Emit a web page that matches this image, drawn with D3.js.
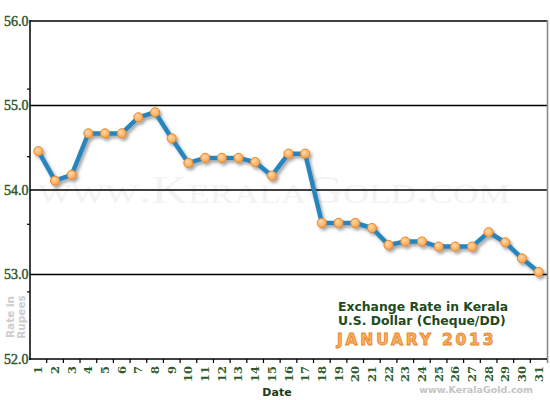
<!DOCTYPE html>
<html lang="en">
<head>
    <meta charset="UTF-8">
    <title>Exchange Rate in Kerala - U.S. Dollar (Cheque/DD) - January 2013</title>
    <script src="https://d3js.org/d3.v7.min.js"></script>
    <style>
        body {
            margin: 0;
            background: #fff;
        }
        svg {
            display: block;
        }
    </style>
</head>
<body>
    <svg id="chart" width="550" height="400"></svg>

    <script>
        // Day labels on the x axis
        const days = ["1", "2", "3", "4", "5", "6", "7", "8", "9", "10",
            "11", "12", "13", "14", "15", "16", "17", "18", "19", "20",
            "21", "22", "23", "24", "25", "26", "27", "28", "29", "30", "31"];

        // Rate in rupees for one U.S. dollar
        const rates = [54.46, 54.11, 54.18, 54.67, 54.67, 54.67, 54.86, 54.92, 54.61, 54.32,
            54.38, 54.38, 54.38, 54.33, 54.17, 54.43, 54.43, 53.61, 53.61, 53.61,
            53.55, 53.35, 53.39, 53.39, 53.33, 53.33, 53.33, 53.50, 53.38, 53.19,
            53.03];

        const gridValues = [53, 54, 55, 56];
        const yLabels = ["52.0", "53.0", "54.0", "55.0", "56.0"];
        const minorTicks = [52.8, 53.6, 54.4, 55.2];

        const data = days.map((d, i) => ({ day: d, rate: rates[i] }));

        // Zone du graphique
        const plotLeft = 30, plotRight = 547, plotTop = 21, plotBottom = 359;

        const svg = d3.select("#chart");

        const x = d3.scaleBand()
            .domain(days)
            .range([plotLeft, plotRight]);

        const y = d3.scaleLinear()
            .domain([52, 56])
            .range([plotBottom, plotTop]);

        // Filtres et dégradés
        const defs = svg.append("defs");
        const shadow = defs.append("filter")
            .attr("id", "shadow")
            .attr("x", "-10%").attr("y", "-10%")
            .attr("width", "130%").attr("height", "130%");
        shadow.append("feDropShadow")
            .attr("dx", 2).attr("dy", 2.5)
            .attr("stdDeviation", 1.4)
            .attr("flood-color", "#000")
            .attr("flood-opacity", 0.35);

        const grad = defs.append("radialGradient")
            .attr("id", "dot")
            .attr("cx", "40%").attr("cy", "35%").attr("r", "65%");
        grad.append("stop").attr("offset", "0%").attr("stop-color", "#ffd8a6");
        grad.append("stop").attr("offset", "100%").attr("stop-color", "#f9a44c");

        // Filigrane
        svg.append("text")
            .attr("x", 38)
            .attr("y", 203)
            .attr("textLength", 472)
            .attr("lengthAdjust", "spacingAndGlyphs")
            .attr("font-family", "Liberation Serif, serif")
            .attr("font-size", 40)
            .style("font-variant", "small-caps")
            .attr("fill", "#f3f3f3")
            .text("www.KeralaGold.com");

        // Lignes de grille
        svg.selectAll(".grid")
            .data(gridValues)
            .join("line")
            .attr("class", "grid")
            .attr("x1", plotLeft)
            .attr("x2", plotRight)
            .attr("y1", d => y(d))
            .attr("y2", d => y(d))
            .attr("stroke", "#000")
            .attr("stroke-width", 1.5);

        // Bord droit
        svg.append("line")
            .attr("x1", plotRight + 0.5).attr("x2", plotRight + 0.5)
            .attr("y1", plotTop - 1).attr("y2", plotBottom + 4)
            .attr("stroke", "#8a8a8a")
            .attr("stroke-width", 1.6);

        // Axe Y
        const yAxis = d3.axisLeft(y)
            .tickValues(minorTicks)
            .tickSize(3)
            .tickFormat("");
        svg.append("g")
            .attr("transform", `translate(${plotLeft},0)`)
            .call(yAxis)
            .call(g => g.select(".domain").remove())
            .call(g => g.selectAll(".tick line").attr("stroke", "#000").attr("stroke-width", 1.2));

        svg.append("line")
            .attr("x1", plotLeft).attr("x2", plotLeft)
            .attr("y1", plotTop - 1).attr("y2", plotBottom + 1)
            .attr("stroke", "#000")
            .attr("stroke-width", 1.5);

        svg.selectAll(".ylabel")
            .data(yLabels)
            .join("text")
            .attr("class", "ylabel")
            .attr("x", plotLeft - 1.5)
            .attr("y", d => y(+d) + 4.8)
            .attr("text-anchor", "end")
            .attr("font-family", "Liberation Serif, serif")
            .attr("font-size", 14)
            .attr("fill", "#2f5a2c")
            .attr("stroke", "#2f5a2c")
            .attr("stroke-width", 0.45)
            .text(d => d);

        // Axe X
        svg.append("line")
            .attr("x1", plotLeft - 1).attr("x2", plotRight)
            .attr("y1", plotBottom).attr("y2", plotBottom)
            .attr("stroke", "#000")
            .attr("stroke-width", 1.5);

        svg.selectAll(".xtick")
            .data(days.slice(1))
            .join("line")
            .attr("class", "xtick")
            .attr("x1", d => x(d))
            .attr("x2", d => x(d))
            .attr("y1", plotBottom)
            .attr("y2", plotBottom + 4)
            .attr("stroke", "#000")
            .attr("stroke-width", 1.2);

        svg.selectAll(".xlabel")
            .data(days)
            .join("text")
            .attr("class", "xlabel")
            .attr("transform", d => `translate(${x(d) + x.bandwidth() / 2 + 4},366) rotate(-90)`)
            .attr("text-anchor", "end")
            .attr("font-family", "DejaVu Serif, serif")
            .attr("font-weight", "bold")
            .attr("font-size", 11.5)
            .attr("fill", "#2f5a2c")
            .text(d => d);

        svg.append("text")
            .attr("x", 277)
            .attr("y", 396)
            .attr("text-anchor", "middle")
            .attr("font-family", "DejaVu Sans, sans-serif")
            .attr("font-weight", "bold")
            .attr("font-size", 11)
            .attr("fill", "#1c3a1c")
            .text("Date");

        // Titre de l'axe Y
        const yTitle = svg.append("text")
            .attr("transform", "translate(13.5,317) rotate(-90)")
            .attr("text-anchor", "middle")
            .attr("font-family", "DejaVu Sans, sans-serif")
            .attr("font-weight", "bold")
            .attr("font-size", 10.5)
            .attr("fill", "#cdcdcd");
        yTitle.append("tspan").attr("x", 0).attr("y", 0).text("Rate in");
        yTitle.append("tspan").attr("x", 0).attr("y", 11).text("Rupees");

        // Ligne et points
        const line = d3.line()
            .x(d => x(d.day) + x.bandwidth() / 2)
            .y(d => y(d.rate));

        const series = svg.append("g").attr("filter", "url(#shadow)");

        series.append("path")
            .datum(data)
            .attr("d", line)
            .attr("fill", "none")
            .attr("stroke", "#2784bf")
            .attr("stroke-width", 4.5)
            .attr("stroke-linejoin", "round");

        series.selectAll(".dot")
            .data(data)
            .join("circle")
            .attr("class", "dot")
            .attr("cx", d => x(d.day) + x.bandwidth() / 2)
            .attr("cy", d => y(d.rate))
            .attr("r", 4.6)
            .attr("fill", "url(#dot)")
            .attr("stroke", "#e6842a")
            .attr("stroke-width", 1);

        // Légende
        const legend = svg.append("g")
            .attr("font-family", "DejaVu Sans, sans-serif")
            .attr("font-weight", "bold");
        legend.append("text")
            .attr("x", 338).attr("y", 311)
            .attr("font-size", 12.4)
            .attr("fill", "#1e4a1c")
            .text("Exchange Rate in Kerala");
        legend.append("text")
            .attr("x", 338).attr("y", 325)
            .attr("font-size", 12.4)
            .attr("fill", "#1e4a1c")
            .text("U.S. Dollar (Cheque/DD)");
        legend.append("text")
            .attr("x", 337).attr("y", 345)
            .attr("font-size", 15.5)
            .attr("letter-spacing", 2.8)
            .attr("fill", "#fab25e")
            .attr("stroke", "#e8862c")
            .attr("stroke-width", 0.9)
            .text("JANUARY 2013");

        // Signature
        svg.append("text")
            .attr("x", 533)
            .attr("y", 393)
            .attr("text-anchor", "end")
            .attr("font-family", "DejaVu Sans, sans-serif")
            .attr("font-weight", "bold")
            .attr("font-size", 9.5)
            .attr("fill", "#c4c4c4")
            .text("www.KeralaGold.com");
    </script>
</body>
</html>
